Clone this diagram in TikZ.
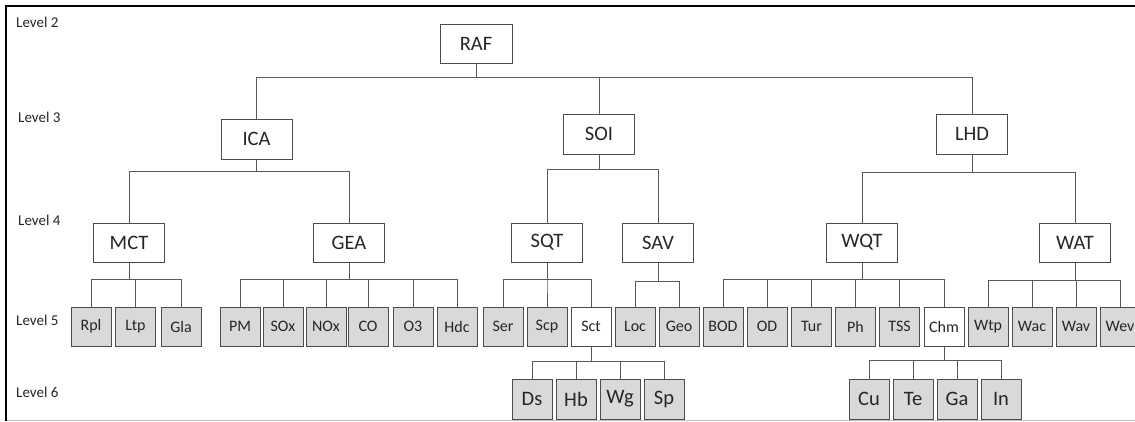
\documentclass[tikz,border=0pt]{standalone}
\usepackage{fontspec}
\setmainfont{Carlito}
\begin{document}
\begin{tikzpicture}[x=1pt,y=-1pt,
  bigbox/.style={draw=black!70,line width=1pt,fill=white,minimum width=71pt,minimum height=39pt,inner sep=0pt,font=\fontsize{20.5}{22}\selectfont,text=black!85},
  midbox/.style={draw=black!70,line width=1pt,fill=black!15,minimum width=40pt,minimum height=39pt,inner sep=0pt,font=\fontsize{16}{18}\selectfont,text=black!85},
  whitebox/.style={midbox,fill=white},
  lowbox/.style={draw=black!70,line width=1pt,fill=black!15,minimum width=40pt,minimum height=40pt,inner sep=0pt,font=\fontsize{20.5}{22}\selectfont,text=black!85},
  lvl/.style={anchor=west,inner sep=0pt,font=\fontsize{15}{17}\selectfont,text=black!85},
  conn/.style={draw=black!65,line width=1pt}]
\useasboundingbox (0,0) rectangle (1135,421);
\clip (0,0) rectangle (1135,421);
\fill[white] (0,0) rectangle (1135,421);
% frame
\draw[black!25,line width=1pt] (6,420) -- (1135,420);
\draw[black,line width=2.2pt] (6,421) -- (6,6) -- (1135,6);
% level labels
\node[lvl] (L2) at (16,22) {Level 2};
\node[lvl] (L3) at (18,117) {Level 3};
\node[lvl] (L4) at (18,220) {Level 4};
\node[lvl] (L5) at (16,320) {Level 5};
\node[lvl] (L6) at (16,392) {Level 6};
% level 2
\node[bigbox,minimum width=72pt] (RAF) at (476,43.5) {RAF};
% level 3
\node[bigbox,minimum height=40pt] (ICA) at (256.5,139) {ICA};
\node[bigbox,minimum height=40pt] (SOI) at (599,134) {SOI};
\node[bigbox,minimum height=40pt] (LHD) at (972,134) {LHD};
% level 4
\node[bigbox] (MCT) at (129,242.5) {MCT};
\node[bigbox] (GEA) at (349,242.5) {GEA};
\node[bigbox] (SQT) at (547,242.5) {SQT};
\node[bigbox] (SAV) at (658,242.5) {SAV};
\node[bigbox] (WQT) at (862,242.5) {WQT};
\node[bigbox] (WAT) at (1075,242.5) {WAT};
% level 5
\foreach \n/\x in {Rpl/91,Ltp/135.5,Gla/181,PM/240,SOx/283,NOx/326,CO/368,O3/413,Hdc/457,Ser/503,Scp/547,Loc/635,Geo/679,BOD/723,OD/767,Tur/811.5,Ph/855.5,TSS/899.5,Wtp/988,Wac/1032,Wav/1076,Wev/1120}
  \node[midbox] (\n) at (\x,326.5) {\n};
\node[whitebox] (Sct) at (591,326.5) {Sct};
\node[whitebox] (Chm) at (944,326.5) {Chm};
% level 6
\foreach \n/\x in {Ds/532,Hb/576,Wg/620,Sp/664,Cu/869,Te/913,Ga/957,In/1001}
  \node[lowbox] (\n) at (\x,399) {\n};
% connectors
\foreach \c in {ICA,SOI,LHD}
  \draw[conn] (RAF.south) -- (RAF.south |- 0,77) -| (\c.north);
\foreach \c in {MCT,GEA}
  \draw[conn] (ICA.south) -- (ICA.south |- 0,171) -| (\c.north);
\foreach \c in {SQT,SAV}
  \draw[conn] (SOI.south) -- (SOI.south |- 0,169) -| (\c.north);
\foreach \c in {WQT,WAT}
  \draw[conn] (LHD.south) -- (LHD.south |- 0,172) -| (\c.north);
\foreach \c in {Rpl,Ltp,Gla}
  \draw[conn] (MCT.south) -- (MCT.south |- 0,279) -| (\c.north);
\foreach \c in {PM,SOx,NOx,CO,O3,Hdc}
  \draw[conn] (GEA.south) -- (GEA.south |- 0,279) -| (\c.north);
\foreach \c in {Ser,Scp,Sct}
  \draw[conn] (SQT.south) -- (SQT.south |- 0,279) -| (\c.north);
\foreach \c in {Loc,Geo}
  \draw[conn] (SAV.south) -- (SAV.south |- 0,281) -| (\c.north);
\foreach \c in {BOD,OD,Tur,Ph,TSS,Chm}
  \draw[conn] (WQT.south) -- (WQT.south |- 0,279) -| (\c.north);
\foreach \c in {Wtp,Wac,Wav,Wev}
  \draw[conn] (WAT.south) -- (WAT.south |- 0,280) -| (\c.north);
\foreach \c in {Ds,Hb,Wg,Sp}
  \draw[conn] (Sct.south) -- (Sct.south |- 0,361) -| (\c.north);
\foreach \c in {Cu,Te,Ga,In}
  \draw[conn] (Chm.south) -- (Chm.south |- 0,360) -| (\c.north);
\end{tikzpicture}
\end{document}
